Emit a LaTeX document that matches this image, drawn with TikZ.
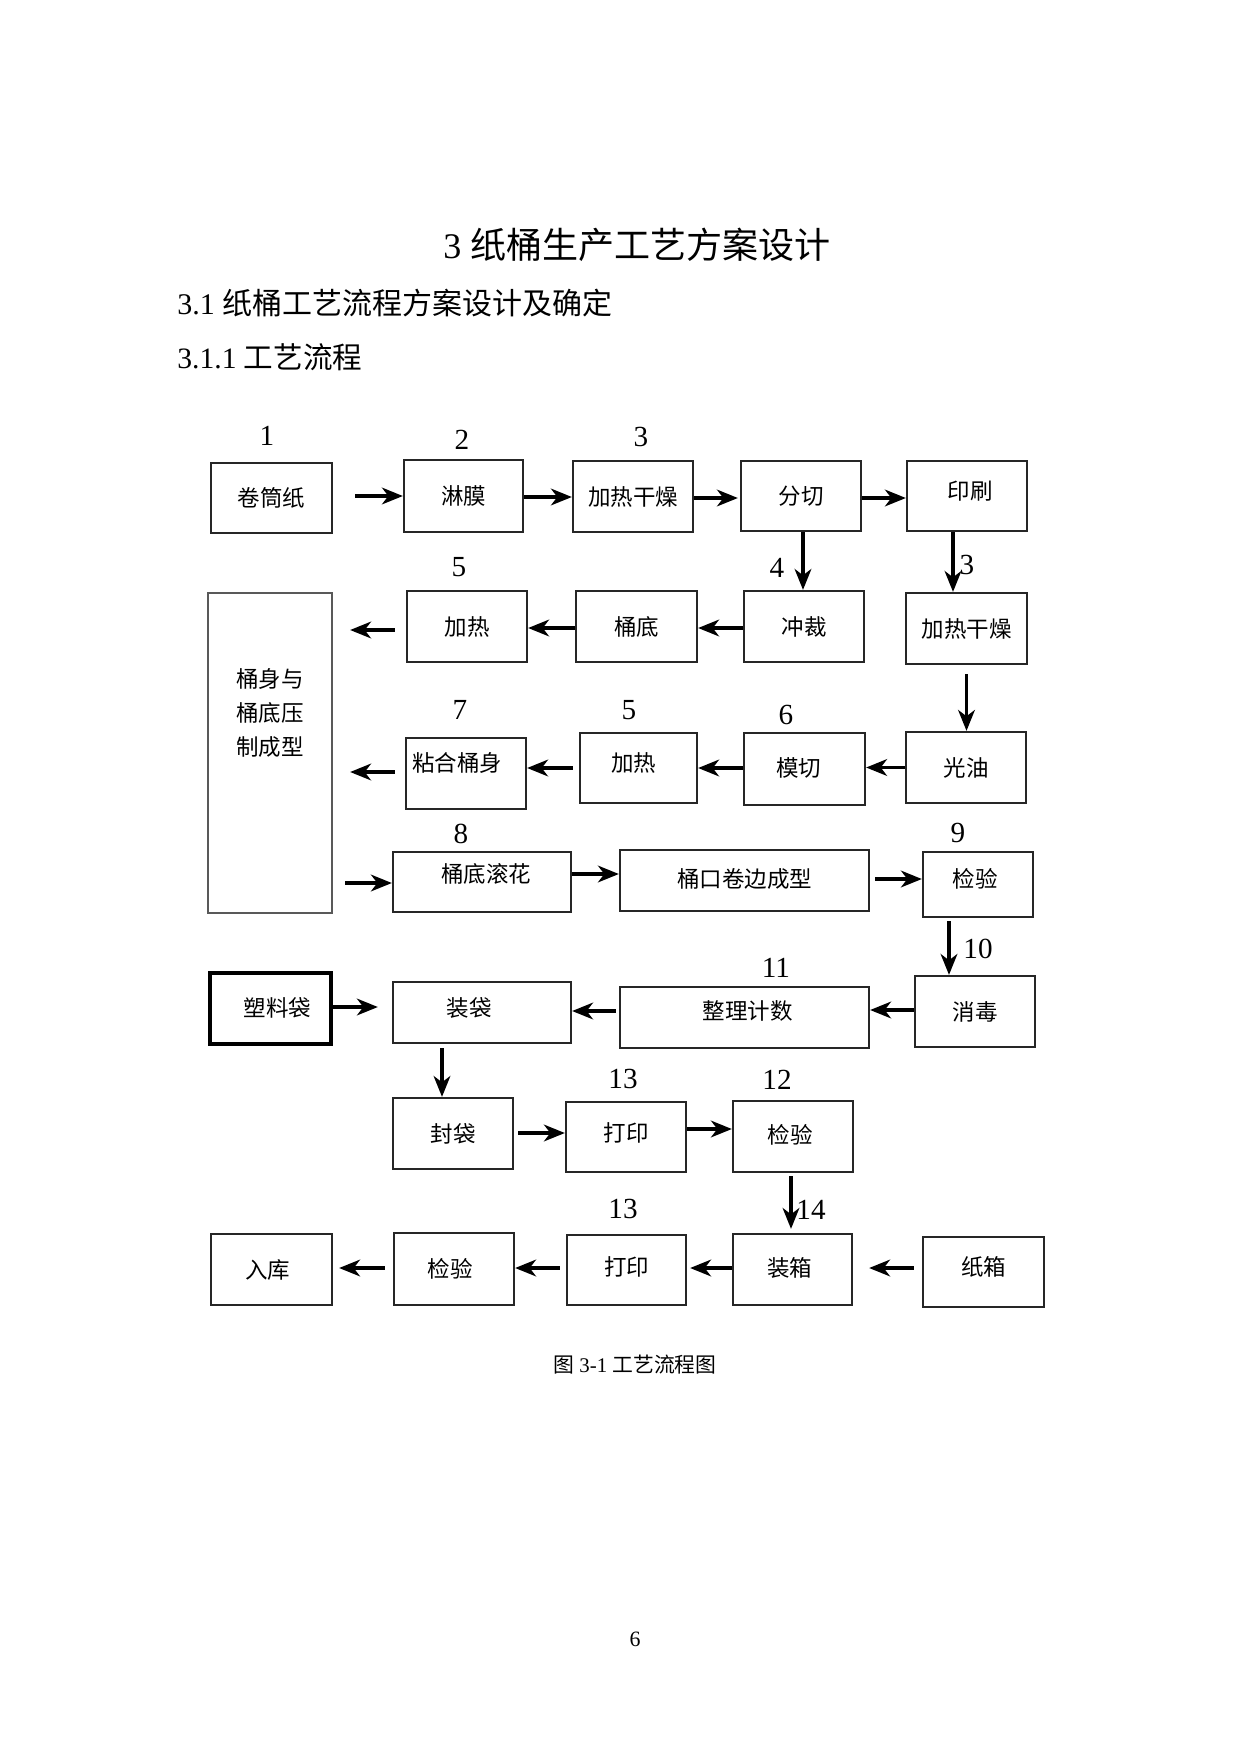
\documentclass[tikz,border=0pt]{standalone}
\usepackage{fontspec}
\setmainfont{Liberation Serif}
\newfontfamily\cjk{Noto Sans CJK SC}
\usetikzlibrary{arrows.meta,calc}
\newlength\pxu \setlength\pxu{0.48pt}
\newcommand\sh[3]{\raisebox{#2\pxu}[\height][\depth]{\hspace*{#1\pxu}#3\hspace*{-#1\pxu}}}
\begin{document}
\begin{tikzpicture}[x=0.48pt,y=-0.48pt,
 box/.style={draw=black!85, line width=1.1pt, rectangle, inner sep=0pt, font=\cjk\fontsize{10.8pt}{13pt}\selectfont},
 sz/.style 2 args={minimum width=#1\pxu, minimum height=#2\pxu},
 num/.style={inner sep=0pt, font=\fontsize{14pt}{16pt}\selectfont},
 arr/.style={line width=1.6pt, -{Stealth[length=10pt,width=8pt,inset=3pt]}},
 gs/.style={shorten <=#1\pxu}, ge/.style={shorten >=#1\pxu}]
\useasboundingbox (0,0) rectangle (1240,1754);
\fill[white] (0,0) rectangle (1240,1754);

% headings
\node[inner sep=0pt, font=\fontsize{17.3pt}{20pt}\selectfont] (h1) at (637,245) {3 {\cjk 纸桶生产工艺方案设计}};
\node[anchor=west, inner sep=0pt, font=\fontsize{14.4pt}{17pt}\selectfont] (h2) at (177,303) {3.1 {\cjk 纸桶工艺流程方案设计及确定}};
\node[anchor=west, inner sep=0pt, font=\fontsize{14.2pt}{17pt}\selectfont] (h3) at (177,357) {3.1.1 {\cjk 工艺流程}};

% row 1
\node[box,sz={121}{70}] (b1) at (271.5,498) {卷筒纸};
\node[box,sz={119}{72}] (b2) at (463.5,496) {淋膜};
\node[box,sz={120}{71}] (b3) at (633,496.5) {加热干燥};
\node[box,sz={120}{70}] (b4) at (801,496) {分切};
\node[box,sz={120}{70}] (b5) at (967,496) {\sh{3}{5}{印刷}};
\node[num] (n1) at (267,436) {1};
\node[num] (n2) at (462,440) {2};
\node[num] (n3) at (641,437) {3};

% row 2
\node[box,sz={120}{71}] (b6) at (467,626.5) {加热};
\node[box,sz={121}{71}] (b7) at (636.5,626.5) {桶底};
\node[box,sz={120}{71}] (b8) at (804,626.5) {冲裁};
\node[box,sz={121}{71}] (b9) at (966.5,628.5) {加热干燥};
\node[num] (n5a) at (459,567) {5};
\node[num] (n4) at (777,568) {4};
\node[num] (n3b) at (967,565) {3};

% big box
\node[box,sz={124}{320},draw=black!65] (big) at (270,753) {};
\node[inner sep=0pt, align=center, font=\cjk\fontsize{10.8pt}{16.3pt}\selectfont] (bigt) at (270,713) {桶身与\\桶底压\\制成型};

% row 3
\node[box,sz={120}{71}] (b10) at (466,773.5) {\sh{-9}{11}{粘合桶身}};
\node[box,sz={117}{70}] (b11) at (638.5,768) {\sh{-5}{5}{加热}};
\node[box,sz={121}{72}] (b12) at (804.5,769) {\sh{-6}{1}{模切}};
\node[box,sz={120}{71}] (b13) at (966,767.5) {光油};
\node[num] (n7) at (460,710) {7};
\node[num] (n5b) at (629,710) {5};
\node[num] (n6) at (786,715) {6};

% row 4
\node[box,sz={178}{60}] (b14) at (482,882) {\sh{4}{8}{桶底滚花}};
\node[box,sz={249}{61}] (b15) at (744.5,880.5) {\sh{0}{2}{桶口卷边成型}};
\node[box,sz={110}{65}] (b16) at (978,884.5) {\sh{-3}{6}{检验}};
\node[num] (n8) at (461,834) {8};
\node[num] (n9) at (958,833) {9};

% row 5
\node[box,sz={120}{71}] (b17) at (975,1011.5) {消毒};
\node[box,sz={249}{61}] (b18) at (744.5,1017.5) {\sh{3}{7}{整理计数}};
\node[box,sz={178}{61}] (b19) at (482,1012.5) {\sh{-13}{5}{装袋}};
\node[box,sz={121}{71},line width=1.6pt,draw=black] (b20) at (270.5,1008.5) {\sh{7}{1}{塑料袋}};
\node[num] (n10) at (978,949) {10};
\node[num] (n11) at (776,968) {11};

% row 6
\node[box,sz={120}{71}] (b21) at (453,1133.5) {封袋};
\node[box,sz={120}{70}] (b22) at (626,1137) {\sh{0}{4}{打印}};
\node[box,sz={120}{71}] (b23) at (793,1136.5) {\sh{-3}{2}{检验}};
\node[num] (n13a) at (623,1079) {13};
\node[num] (n12) at (777,1080) {12};

% row 7
\node[box,sz={121}{71}] (b27) at (271.5,1269.5) {\sh{-4}{0}{入库}};
\node[box,sz={120}{72}] (b26) at (454,1269) {\sh{-4}{0}{检验}};
\node[box,sz={119}{70}] (b25) at (626.5,1270) {\sh{0}{3}{打印}};
\node[box,sz={119}{71}] (b24) at (792.5,1269.5) {\sh{-3}{2}{装箱}};
\node[box,sz={121}{70}] (b28) at (983.5,1272) {\sh{0}{5}{纸箱}};
\node[num] (n13b) at (623,1209) {13};
\node[num] (n14) at (811,1210) {14};

% caption and page number
\node[inner sep=0pt, font=\fontsize{10pt}{12pt}\selectfont] (cap) at (635,1365) {{\cjk 图} 3-1 {\cjk 工艺流程图}};
\node[inner sep=0pt, font=\fontsize{10.5pt}{12pt}\selectfont] (pg) at (635,1639) {6};

% arrows row 1
\draw[arr,gs=22] ($(b1.east)+(0,-2)$) -- ($(b1.east -| b2.west)+(0,-2)$);
\draw[arr] ($(b2.east)+(0,1)$) -- ($(b2.east -| b3.west)+(0,1)$);
\draw[arr,ge=2] ($(b3.east)+(0,1.5)$) -- ($(b3.east -| b4.west)+(0,1.5)$);
\draw[arr] ($(b4.east)+(0,2)$) -- ($(b4.east -| b5.west)+(0,2)$);
% downs
\draw[arr] ($(b4.south)+(2,0)$) -- ($(b4.south |- b8.north)+(2,0)$);
\draw[arr] ($(b5.south)+(-14,0)$) -- ($(b5.south |- b9.north)+(-14,0)$);
% row 2
\draw[arr] ($(b8.west)+(0,1.5)$) -- ($(b8.west -| b7.east)+(0,1.5)$);
\draw[arr] ($(b7.west)+(0,1.5)$) -- ($(b7.west -| b6.east)+(0,1.5)$);
\draw[arr,gs=11,ge=17] ($(b6.west)+(0,3.5)$) -- ($(b6.west -| big.east)+(0,3.5)$);
% row 3
\draw[arr,gs=9] (b9.south) -- (b9.south |- b13.north);
\draw[arr] (b13.west) -- (b13.west -| b12.east);
\draw[arr] ($(b12.west)+(0,-1)$) -- ($(b12.west -| b11.east)+(0,-1)$);
\draw[arr,gs=6] (b11.west) -- (b11.west -| b10.east);
\draw[arr,gs=10,ge=17] ($(b10.west)+(0,-1.5)$) -- ($(b10.west -| big.east)+(0,-1.5)$);
% row 4
\draw[arr,gs=12] ($(big.east |- b14.west)+(0,1)$) -- ($(b14.west)+(0,1)$);
\draw[arr] ($(b14.east)+(0,-8)$) -- ($(b14.east -| b15.west)+(0,-8)$);
\draw[arr,gs=5] ($(b15.east)+(0,-1.5)$) -- ($(b15.east -| b16.west)+(0,-1.5)$);
\draw[arr,gs=3] ($(b16.south)+(-29,0)$) -- ($(b16.south |- b17.north)+(-29,0)$);
% row 5
\draw[arr] ($(b17.west)+(0,-1.5)$) -- ($(b17.west -| b18.east)+(0,-1.5)$);
\draw[arr,gs=3] ($(b18.west)+(0,-6.5)$) -- ($(b18.west -| b19.east)+(0,-6.5)$);
\draw[arr,ge=14] ($(b20.east)+(0,-1.5)$) -- ($(b20.east -| b19.west)+(0,-1.5)$);
\draw[arr,gs=4] ($(b19.south)+(-40,0)$) -- ($(b19.south |- b21.north)+(-40,0)$);
% row 6
\draw[arr,gs=4] ($(b21.east)+(0,-0.5)$) -- ($(b21.east -| b22.west)+(0,-0.5)$);
\draw[arr] ($(b22.east)+(0,-8)$) -- ($(b22.east -| b23.west)+(0,-8)$);
\draw[arr,gs=3,ge=4] ($(b23.south)+(-2,0)$) -- ($(b23.south |- b24.north)+(-2,0)$);
% row 7
\draw[arr,gs=8,ge=16] ($(b28.west)+(0,-4)$) -- ($(b28.west -| b24.east)+(0,-4)$);
\draw[arr,ge=3] ($(b24.west)+(0,-1.5)$) -- ($(b24.west -| b25.east)+(0,-1.5)$);
\draw[arr,gs=6] ($(b25.west)+(0,-2)$) -- ($(b25.west -| b26.east)+(0,-2)$);
\draw[arr,gs=8,ge=6] ($(b26.west)+(0,-1)$) -- ($(b26.west -| b27.east)+(0,-1)$);
\end{tikzpicture}
\end{document}
